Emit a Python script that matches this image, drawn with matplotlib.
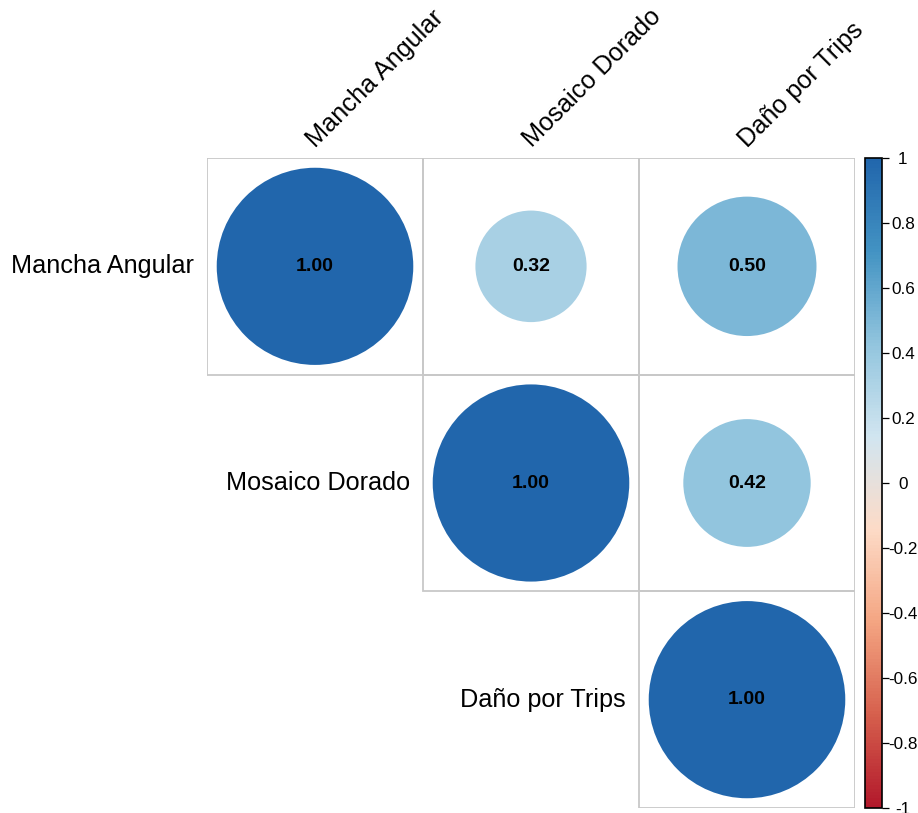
import matplotlib
matplotlib.use("Agg")
import matplotlib.pyplot as plt
import numpy as np
from matplotlib.colors import LinearSegmentedColormap, Normalize
from matplotlib.patches import Circle, Rectangle
from matplotlib.cm import ScalarMappable

plt.rcParams['font.family'] = ['Liberation Sans', 'DejaVu Sans']

# correlation matrix (upper triangle drawn)
variables = ["Mancha Angular", "Mosaico Dorado", "Daño por Trips"]
corr = np.array([
    [1.00, 0.32, 0.50],
    [0.32, 1.00, 0.42],
    [0.50, 0.42, 1.00],
])
bar_ticks = [-1, -0.8, -0.6, -0.4, -0.2, 0, 0.2, 0.4, 0.6, 0.8, 1]
bar_labels = ["-1", "-0.8", "-0.6", "-0.4", "-0.2", "0", "0.2", "0.4", "0.6", "0.8", "1"]

# brewer RdBu (8 classes), red for -1 to blue for +1
cmap = LinearSegmentedColormap.from_list(
    "rdbu8", ["#B2182B", "#D6604D", "#F4A582", "#FDDBC7",
              "#D1E5F0", "#92C5DE", "#4393C3", "#2166AC"], N=200)
norm = Normalize(-1, 1)

W, H = 918, 813
fig = plt.figure(figsize=(W / 100, H / 100), dpi=100)
ax = fig.add_axes([207 / W, (H - 808) / H, 648 / W, 650 / H])
n = len(variables)
ax.set_xlim(0, n)
ax.set_ylim(0, n)
ax.axis('off')

for i in range(n):
    for j in range(i, n):
        x0, y0 = j, n - 1 - i
        ax.add_patch(Rectangle((x0, y0), 1, 1, fill=False, ec="#C8C8C8", lw=1.3))
        r = corr[i, j]
        ax.add_patch(Circle((x0 + 0.5, y0 + 0.5), 0.455 * np.sqrt(abs(r)),
                            fc=cmap(norm(r)), ec="none"))
        ax.text(x0 + 0.5, y0 + 0.5, f"{r:.2f}", ha='center', va='center',
                fontsize=14, fontweight='bold', color='black')

# row labels next to the diagonal
for i, name in enumerate(variables):
    ax.text(i - 0.06, n - 1 - i + 0.5, name, ha='right', va='center',
            fontsize=18.2, clip_on=False)

# column labels on top, rotated
for j, name in enumerate(variables):
    ax.text(j + 0.52, n + 0.03, name, ha='left', va='bottom', rotation=45,
            rotation_mode='anchor', fontsize=18.2, clip_on=False)

# colour legend
cax = fig.add_axes([865 / W, (H - 808) / H, 17 / W, 650 / H])
sm = ScalarMappable(norm=norm, cmap=cmap)
cb = fig.colorbar(sm, cax=cax, ticks=bar_ticks)
cb.outline.set_linewidth(1.2)
cb.outline.set_edgecolor('black')
cax.set_yticklabels(bar_labels)
cax.tick_params(axis='y', length=5, width=0.9, pad=10, labelsize=12.3)
for lbl in cax.get_yticklabels():
    lbl.set_horizontalalignment('center')

fig.savefig("out.png", dpi=100)
